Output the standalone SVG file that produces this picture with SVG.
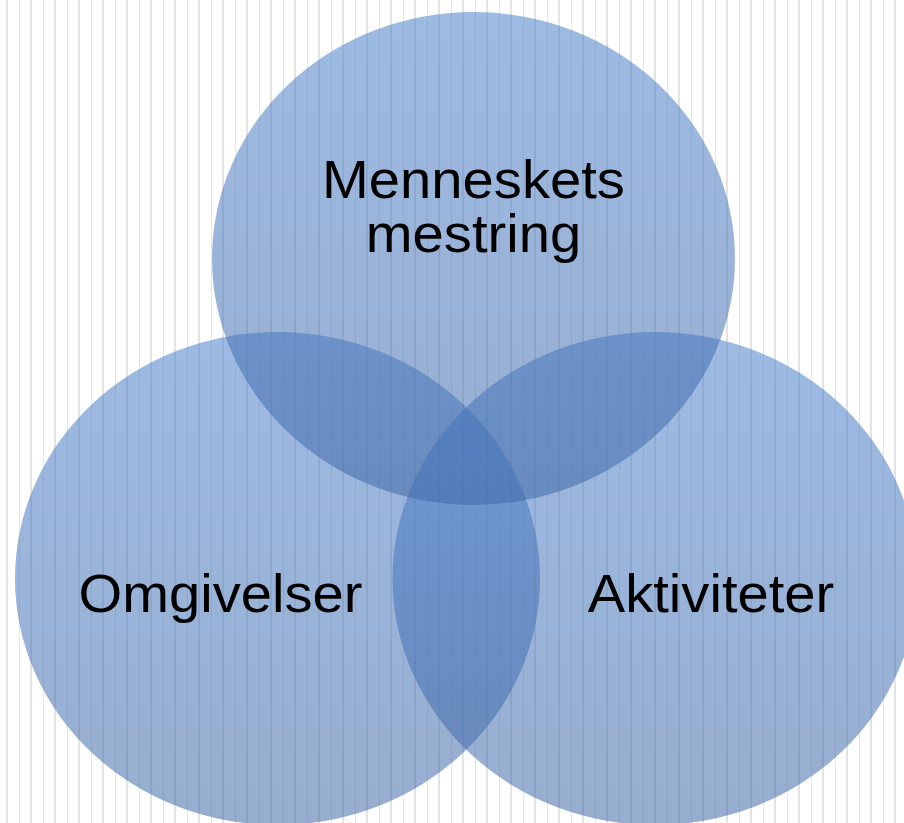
<svg xmlns="http://www.w3.org/2000/svg" width="904" height="823" viewBox="0 0 904 823">
  <defs>
    <pattern id="stripes" x="0" y="0" width="24" height="823" patternUnits="userSpaceOnUse">
      <rect x="6" y="0" width="2" height="823" fill="#e3e3e3"/>
      <rect x="19" y="0" width="1" height="823" fill="#e6e6e6"/>
    </pattern>
    <linearGradient id="fill" x1="0" y1="0" x2="0" y2="1">
      <stop offset="0" stop-color="#4a80cc"/>
      <stop offset="1" stop-color="#3f68a6"/>
    </linearGradient>
  </defs>
  <style>
    .c { fill: url(#fill); fill-opacity: 0.54; }
    .t { font-family: "Liberation Sans", Arial, sans-serif; font-size: 53px; fill: #000; text-anchor: middle; }
  </style>
  <rect width="904" height="823" fill="#ffffff"/>
  <rect width="904" height="823" fill="url(#stripes)"/>
  <g id="node-omgivelser">
    <ellipse class="c" cx="277.5" cy="578.5" rx="262.5" ry="246.5"/>
  </g>
  <g id="node-aktiviteter">
    <ellipse class="c" cx="655" cy="578.5" rx="262.5" ry="246.5"/>
  </g>
  <g id="node-menneskets">
    <ellipse class="c" cx="473.5" cy="258.5" rx="261.5" ry="246.5"/>
  </g>
  <g id="connectors"></g>
  <g id="labels">
    <text class="t" transform="translate(473.5,198) scale(1.06,1)">Menneskets</text>
    <text class="t" transform="translate(473.5,252) scale(1.06,1)">mestring</text>
    <text class="t" transform="translate(220.5,612) scale(1.06,1)">Omgivelser</text>
    <text class="t" transform="translate(711,612) scale(1.06,1)">Aktiviteter</text>
  </g>
</svg>
